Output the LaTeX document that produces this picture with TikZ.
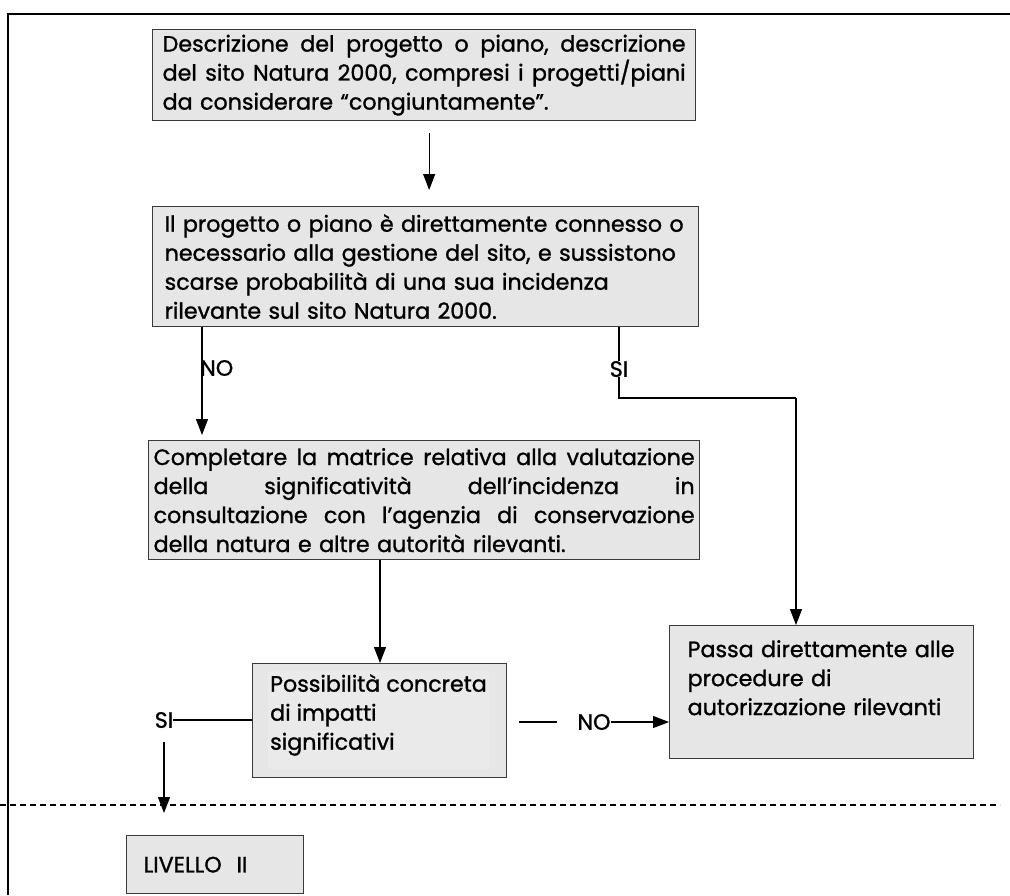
\documentclass[tikz,border=0pt]{standalone}
\usepackage{fontspec}
\setmainfont{Poppins}[FakeBold=1.2]
\usetikzlibrary{arrows.meta,calc}
\definecolor{boxfill}{HTML}{E6E6E6}
\definecolor{innerfill}{HTML}{EAEAEA}
\definecolor{boxline}{HTML}{3A3A3A}
\newcommand\bodyfont{\fontsize{22.2}{29}\selectfont}
\newcommand\jl[2]{\leavevmode\hbox to #1{#2}}
\begin{document}
\begin{tikzpicture}[x=1pt,y=-1pt,
  box/.style={draw=boxline, fill=boxfill, line width=1.3pt, anchor=north west,
    align=left, inner ysep=0pt, font=\bodyfont},
  arr/.style={line width=1.1pt, -{Triangle[length=16pt,width=12pt]}},
  conn/.style={line width=1.1pt},
  lab/.style={font=\bodyfont, inner sep=0pt, fill=white}]
\useasboundingbox (0,0) rectangle (1010,895);
% frame
\draw[line width=2.5pt] (1010,14) -- (8,14) -- (8,895);
% boxes
\node[box, minimum width=543pt, minimum height=91pt, inner xsep=10pt, text width=523pt] (b1) at (152,29)
 {\jl{523pt}{Descrizione\hfill del\hfill progetto\hfill o\hfill piano,\hfill descrizione}\\
  \jl{523pt}{del\hfill sito\hfill Natura\hfill 2000,\hfill compresi\hfill i\hfill progetti/piani}\\
  da considerare “congiuntamente”.};
\node[box, minimum width=546pt, minimum height=120pt, inner xsep=12pt, text width=522pt] (b2) at (152,206)
 {Il progetto o piano è direttamente connesso o\\
  necessario alla gestione del sito, e sussistono\\
  scarse probabilità di una sua incidenza\\
  rilevante sul sito Natura 2000.};
\node[box, minimum width=551pt, minimum height=119pt, inner xsep=5pt, text width=541pt] (b3) at (148,440)
 {\jl{541pt}{Completare\hfill la\hfill matrice\hfill relativa\hfill alla\hfill valutazione}\\
  \jl{541pt}{della\hfill significatività\hfill dell’incidenza\hfill in}\\
  \jl{541pt}{consultazione\hfill con\hfill l’agenzia\hfill di\hfill conservazione}\\
  della natura e altre autorità rilevanti.};
\node[box, minimum width=254pt, minimum height=114pt, inner xsep=0pt, text width=254pt] (b4) at (252,663) {};
\fill[innerfill] (268,671) rectangle (489,769);
\node[font=\bodyfont, align=left, anchor=west, inner sep=0pt] (t4) at (270,715)
 {Possibilità concreta\\ di impatti\\ significativi};
\node[box, minimum width=304pt, minimum height=133pt, inner xsep=18pt, text width=268pt] (b5) at (669,625)
 {Passa direttamente alle\\ procedure di\\ autorizzazione rilevanti\\ \mbox{}};
\node[box, minimum width=177pt, minimum height=58pt, inner xsep=17pt, text width=143pt] (b6) at (126,835)
 {LIVELLO\ \ II};
% labels
\node[lab, anchor=west] (no1) at (200,368) {NO};
\node[lab] (si1) at (619,369) {SI};
\node[lab] (si2) at (164,720) {SI};
\node[lab] (no2) at (594,722) {NO};
\coordinate (lv) at (164,813);
% connectors
\draw[arr, shorten <=12pt, shorten >=16pt] ([xshift=5pt]b1.south) -- ([xshift=5pt]b1.south |- b2.north);
\draw[arr, shorten >=5pt] ($(b2.south -| no1.west)+(2pt,0)$) -- ($(b3.north -| no1.west)+(2pt,0)$);
\draw[conn] (b2.south -| si1) -- (si1) -- (619,398) -- (796,398);
\draw[arr] (796,398) -- (796,398 |- b5.north);
\draw[arr] (b3.south -| 380,0) -- (b4.north -| 380,0);
\draw[conn] (b4.west |- si2) -- (si2.east);
\draw[arr] ([yshift=-14pt]si2.south) -- (lv);
\draw[conn, shorten <=12pt, shorten >=20pt] (b4.east |- no2) -- (no2.west);
\draw[arr] (no2.east) -- (b5.west |- no2);
% dashed separator
\draw[line width=2pt, dash pattern=on 6pt off 4pt] (0,805) -- (1000,805);
\end{tikzpicture}
\end{document}
